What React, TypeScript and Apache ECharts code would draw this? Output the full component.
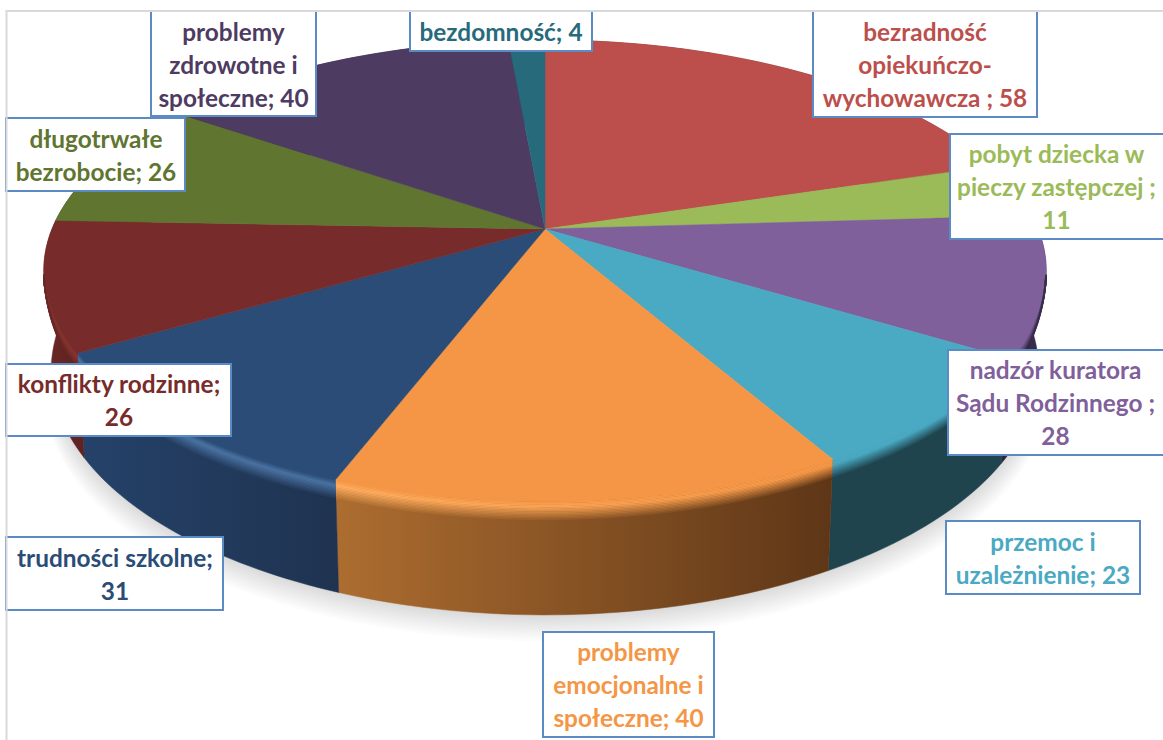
import React, { useEffect, useRef } from "react";
import * as echarts from "echarts";

const categories = [
  "bezradność\nopiekuńczo-\nwychowawcza",
  "pobyt dziecka w\npieczy zastępczej",
  "nadzór kuratora\nSądu Rodzinnego",
  "przemoc i\nuzależnienie",
  "problemy\nemocjonalne i\nspołeczne",
  "trudności szkolne",
  "konflikty rodzinne",
  "długotrwałe\nbezrobocie",
  "problemy\nzdrowotne i\nspołeczne",
  "bezdomność",
];
const values = [58, 11, 28, 23, 40, 31, 26, 26, 40, 4];
const separators = [" ; ", " ;\n", " ;\n", "; ", "; ", ";\n", ";\n", "; ", "; ", "; "];

const topColors = ["#BC4F4C", "#9BBA58", "#7F609B", "#4AA9C3", "#F49645", "#2A4C76", "#772B2A", "#5F7530", "#4D3B62", "#276A7C"];
const textColors = topColors;
const wallLeft = ["#6E2D2B", "#5A6C33", "#2F2440", "#1F444E", "#AD6D30", "#25426A", "#6A2725", "#3A481E", "#2E233B", "#173F4A"];
const wallRight = ["#6E2D2B", "#5A6C33", "#3A2C4E", "#1F444E", "#5E3617", "#1F3350", "#5E2220", "#3A481E", "#2E233B", "#173F4A"];
const lightLeft = ["#BC4F4C", "#9BBA58", "#7F609B", "#4AA9C3", "#FFAE5E", "#4A73A3", "#86332F", "#5F7530", "#4D3B62", "#276A7C"];
const lightRight = ["#BC4F4C", "#9BBA58", "#7F609B", "#4AA9C3", "#F49645", "#4A73A3", "#86332F", "#5F7530", "#4D3B62", "#276A7C"];

const boxes = [
  [813, 11, 1037, 117],
  [950, 134, 1170, 239],
  [948, 350, 1170, 455],
  [946, 521, 1140, 594],
  [543, 632, 714, 737],
  [6, 537, 223, 610],
  [6, 364, 231, 436],
  [6, 118, 185, 191],
  [151, 11, 316, 116],
  [410, 11, 592, 51],
];

const CX = 545, CY = 229;
const K = 0.18, A = 223, B = 493, H = 96.8, S = 0.985;
const total = values.reduce((a, b) => a + b, 0);
const starts: number[] = [];
values.reduce((acc, v, i) => { starts[i] = acc; return acc + v; }, 0);
const angle = (v: number) => (v / total) * Math.PI * 2;

function project(theta: number, frac: number): number[] {
  const x = Math.sin(theta), y = -Math.cos(theta);
  const w = 1 - K * y;
  const s = 1 + (S - 1) * frac;
  return [CX + (s * B * x) / w, CY + (s * A * y + H * frac) / w];
}
function rim(a0: number, a1: number, frac: number): number[][] {
  const n = Math.max(2, Math.ceil(Math.abs(a1 - a0) / 0.02));
  const pts: number[][] = [];
  for (let i = 0; i <= n; i++) pts.push(project(a0 + ((a1 - a0) * i) / n, frac));
  return pts;
}
function hex(c: string) { return [1, 3, 5].map((i) => parseInt(c.slice(i, i + 2), 16)); }
function mix(a: string, b: string, t: number) {
  const A1 = hex(a), B1 = hex(b);
  const r = A1.map((v, i) => Math.round(v + (B1[i] - v) * t));
  return "#" + r.map((v) => v.toString(16).padStart(2, "0")).join("");
}
function xRange(pts: number[][]) {
  const xs = pts.map((p) => p[0]);
  return [Math.min(...xs), Math.max(...xs)];
}
function hGrad(x0: number, x1: number, c0: string, c1: string) {
  return new echarts.graphic.LinearGradient(x0, 0, x1, 0, [
    { offset: 0, color: c0 },
    { offset: 1, color: c1 },
  ], true);
}

const dataRows = values.map((v) => [v]);
const BEVEL_STEPS = 14;
const BEVEL_PX = 17;

function renderShadow(params: any) {
  if (params.dataIndex !== 0) return { type: "group", children: [] };
  const pts = rim(0, Math.PI * 2, 1);
  const children: any[] = [];
  for (let i = 0; i < 12; i++) {
    children.push({
      type: "polygon",
      shape: { points: pts.map((p) => [CX + (p[0] - CX) * (1 + 0.0012 * i), p[1] + 2 + i * 2.2]) },
      style: { fill: "rgba(0,0,0,0.013)" },
    });
  }
  return { type: "group", children };
}

function renderWall(params: any, api: any) {
  const i = params.dataIndex;
  const a0 = angle(starts[i]), a1 = a0 + angle(api.value(0));
  const top = rim(a0, a1, 0), bottom = rim(a0, a1, 1);
  const [x0, x1] = xRange(top.concat(bottom));
  const fill = hGrad(x0, x1, wallLeft[i], wallRight[i]);
  return {
    type: "polygon",
    shape: { points: top.concat(bottom.reverse()) },
    style: { fill, stroke: fill, lineWidth: 0.5 },
  };
}

function renderTop(params: any, api: any) {
  const i = params.dataIndex;
  const a0 = angle(starts[i]), a1 = a0 + angle(api.value(0));
  return {
    type: "polygon",
    shape: { points: [[CX, CY], ...rim(a0, a1, 0)] },
    style: { fill: topColors[i], stroke: topColors[i], lineWidth: 0.5 },
  };
}

function renderBevel(params: any, api: any) {
  const i = params.dataIndex;
  const a0 = angle(starts[i]), a1 = a0 + angle(api.value(0));
  const children: any[] = [];
  const [x0, x1] = xRange(rim(a0, a1, 0));
  for (let s = 0; s <= BEVEL_STEPS; s++) {
    const u = s / BEVEL_STEPS;
    const frac = (u * BEVEL_PX) / H;
    const pts: number[][] = [];
    const n = Math.max(2, Math.ceil((a1 - a0) / 0.02));
    for (let j = 0; j <= n; j++) {
      const th = a0 + ((a1 - a0) * j) / n;
      const yy = -Math.cos(th);
      if (yy > K) pts.push(project(th, frac * Math.min(1, (yy - K) / 0.25)));
    }
    if (pts.length < 2) continue;
    const peak = 0.3;
    let cL: string, cR: string;
    if (u < peak) {
      cL = mix(topColors[i], lightLeft[i], u / peak);
      cR = mix(topColors[i], lightRight[i], u / peak);
    } else {
      const v = (u - peak) / (1 - peak);
      cL = mix(lightLeft[i], wallLeft[i], v);
      cR = mix(lightRight[i], wallRight[i], v);
    }
    children.push({
      type: "polyline",
      shape: { points: pts },
      style: { stroke: hGrad(x0, x1, cL, cR), lineWidth: 1.8, fill: null },
    });
  }
  return { type: "group", children };
}

function renderLabel(params: any, api: any) {
  const i = params.dataIndex;
  const [x0, y0, x1, y1] = boxes[i];
  return {
    type: "group",
    children: [
      {
        type: "rect",
        shape: { x: x0, y: y0, width: x1 - x0, height: y1 - y0 },
        style: { fill: "#ffffff", stroke: "#5B8AC4", lineWidth: 2 },
      },
      {
        type: "text",
        style: {
          text: categories[i] + separators[i] + api.value(0),
          x: (Math.max(x0, 7) + Math.min(x1, 1163)) / 2,
          y: (Math.max(y0, 12) + y1) / 2,
          align: "center",
          verticalAlign: "middle",
          lineHeight: 33,
          fill: textColors[i],
          font: "700 24.4px Lato, sans-serif",
        },
      },
    ],
  };
}

function renderFrame(params: any) {
  if (params.dataIndex !== 0) return { type: "group", children: [] };
  const style = { stroke: "#D9D9D9", lineWidth: 2 };
  return {
    type: "group",
    children: [
      { type: "line", shape: { x1: 6.5, y1: 10, x2: 6.5, y2: 740 }, style },
      { type: "line", shape: { x1: 6, y1: 11, x2: 1163, y2: 11 }, style },
    ],
  };
}

const customSeries = (z: number, renderItem: any) => ({
  type: "custom",
  coordinateSystem: "none",
  silent: true,
  z,
  data: dataRows,
  renderItem,
});

export default function App() {
  const ref = useRef<HTMLDivElement>(null);
  useEffect(() => {
    document.body.style.margin = "0";
    const chart = echarts.init(ref.current!, undefined, { renderer: "svg" });
    chart.setOption({
      animation: false,
      backgroundColor: "#ffffff",
      tooltip: { show: false },
      series: [
        customSeries(1, renderShadow),
        customSeries(2, renderWall),
        customSeries(3, renderTop),
        customSeries(4, renderBevel),
        customSeries(5, renderLabel),
        customSeries(6, renderFrame),
      ],
    });
    return () => chart.dispose();
  }, []);
  return <div ref={ref} style={{ width: 1163, height: 740 }} />;
}
